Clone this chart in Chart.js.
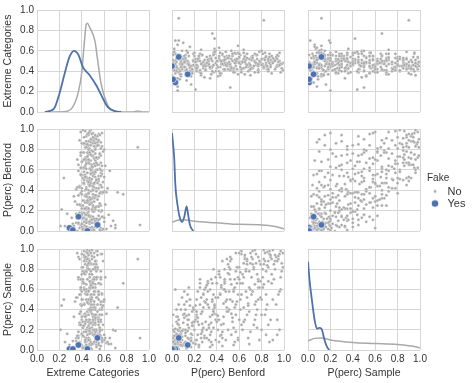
<!DOCTYPE html>
<html><head><meta charset="utf-8">
<script src="https://cdn.jsdelivr.net/npm/chart.js@4.4.0/dist/chart.umd.min.js"></script>
<style>
html,body{margin:0;padding:0;background:#fff;}
#wrap{position:relative;width:474px;height:383px;overflow:hidden;background:#fff;}
#wrap canvas{position:absolute;left:0;top:0;}
</style></head><body><div id="wrap"></div>
<script>
const varNames = ['Extreme Categories', 'P(perc) Benford', 'P(perc) Sample'];
const tickLabels = ['0.0', '0.2', '0.4', '0.6', '0.8', '1.0'];
const legendTitle = 'Fake';
const hueLabels = ['No', 'Yes'];

// Fake = No observations (Extreme Categories, P(perc) Benford, P(perc) Sample)
const ecNo = [
0.45,0.38,0.52,0.29,0.47,0.60,0.41,0.55,0.35,0.49, 0.43,0.66,0.50,0.32,0.57,0.44,0.39,0.53,0.46,0.62,
0.36,0.48,0.42,0.58,0.25,0.51,0.45,0.40,0.54,0.47, 0.33,0.56,0.44,0.70,0.49,0.41,0.52,0.37,0.59,0.46,
0.48,0.42,0.55,0.37,0.50,0.44,0.59,0.46,0.40,0.53, 0.31,0.47,0.51,0.43,0.57,0.39,0.49,0.64,0.45,0.52,
0.41,0.48,0.35,0.54,0.46,0.60,0.43,0.50,0.38,0.56, 0.47,0.27,0.44,0.51,0.42,
0.44,0.50,0.39,0.56,0.47,0.42,0.53,0.36,0.49,0.58, 0.45,0.41,0.52,0.48,0.34,0.55,0.46,0.61,0.43,0.50,
0.40,0.57,0.47,0.22,0.51,0.44,0.38,0.53,0.49,0.46,
0.47,0.52,0.43,0.58,0.40,0.49,0.55,0.45,0.62,0.42, 0.50,0.37,0.54,0.46,0.48,0.33,0.51,0.44,0.57,0.41,
0.48,0.53,0.39,0.46,0.60,0.45,0.50,0.43,
0.50,0.44,0.56,0.41,0.48,0.53,0.38,0.46,0.59,0.43, 0.51,0.47,0.35,0.54,0.45,0.49,0.63,0.42,0.52,0.46,
0.40,0.57,0.48,0.44,0.55,0.36,0.50,0.47,
0.46,0.52,0.41,0.57,0.49,0.44,0.55,0.39,0.51,0.47, 0.60,0.43,0.53,0.48,0.37,0.50,0.45,0.58,0.42,0.54,
0.47,0.40,0.52,0.49,0.65,0.44,0.51,
0.49,0.43,0.55,0.46,0.52,0.40,0.58,0.47,0.44,0.53, 0.50,0.37,0.56,0.45,0.48,0.61,0.42,0.51,0.46,0.54,
0.39,0.49,0.57,0.44,0.47,0.52,
0.51,0.45,0.56,0.42,0.48,0.53,0.39,0.47,0.59,0.44, 0.50,0.46,0.54,0.41,0.49,0.57,0.43,0.52,0.47,0.36,
0.55,0.48,0.45,0.50,
0.47,0.53,0.42,0.57,0.49,0.45,0.55,0.40,0.51,0.46, 0.58,0.44,0.52,0.48,0.38,0.54,0.43,0.50,0.46,0.60,
0.48,0.52,
0.50,0.44,0.55,0.47,0.41,0.52,0.46,0.58,0.43,0.49, 0.54,0.45,0.51,0.39,0.48,0.56,0.42,0.50,0.47,0.53,
0.92,0.90,0.77,0.72,0.70,0.68,0.21,0.24,
0.46,0.51,0.43,0.49,0.55,0.41,0.48,0.53,0.44,0.50, 0.52,0.45,0.48,0.56,0.42,0.50,0.46,0.39,0.54,0.47,
0.40,0.47,0.55,0.44,0.50,0.57,0.43,0.49,0.46,0.52, 0.48,0.42,0.50,0.46,0.53,0.45,0.58,0.41,0.49,0.55,
0.43,0.55,0.47,0.40,0.51,0.48,0.44,0.56,0.42,0.46, 0.50,0.37,0.44,0.52,0.47,0.58,0.43,0.49,0.45,0.51,
0.54,0.48,0.41,0.45,0.59,0.46,0.52,0.40,0.50,0.44, 0.45,0.49,0.53,0.42,0.48,0.44,0.55,0.47,0.43,0.57,
0.41,0.56,0.46,0.49,0.52,0.47,0.39,0.54,0.48,0.45, 0.47,0.44,0.58,0.50,0.38,0.53,0.48,0.42,0.52,0.49,
0.51,0.43,0.47,0.55,0.45,0.50,0.42,0.57,0.46,0.48, 0.44,0.52,0.49,0.40,0.56,0.46,0.51,0.45,0.53,0.47
];
const pbNo = [
0.01,0.03,0.05,0.02,0.07,0.09,0.04,0.06,0.08,0.00, 0.02,0.05,0.01,0.07,0.03,0.09,0.06,0.04,0.08,0.02,
0.00,0.03,0.06,0.01,0.05,0.08,0.04,0.07,0.09,0.02, 0.05,0.01,0.03,0.06,0.08,0.00,0.04,0.07,0.02,0.09,
0.11,0.13,0.15,0.17,0.19,0.12,0.14,0.16,0.18,0.10, 0.13,0.15,0.11,0.17,0.19,0.14,0.12,0.16,0.18,0.10,
0.12,0.15,0.17,0.11,0.19,0.13,0.16,0.14,0.18,0.12, 0.15,0.17,0.11,0.19,0.13,
0.21,0.23,0.25,0.27,0.29,0.22,0.24,0.26,0.28,0.20, 0.23,0.25,0.21,0.27,0.29,0.24,0.22,0.26,0.28,0.20,
0.22,0.25,0.27,0.21,0.29,0.23,0.26,0.24,0.28,0.22,
0.31,0.33,0.35,0.37,0.39,0.32,0.34,0.36,0.38,0.30, 0.33,0.35,0.31,0.37,0.39,0.34,0.32,0.36,0.38,0.30,
0.32,0.35,0.37,0.31,0.39,0.33,0.36,0.34,
0.41,0.43,0.45,0.47,0.49,0.42,0.44,0.46,0.48,0.40, 0.43,0.45,0.41,0.47,0.49,0.44,0.42,0.46,0.48,0.40,
0.42,0.45,0.47,0.41,0.49,0.43,0.46,0.44,
0.51,0.53,0.55,0.57,0.59,0.52,0.54,0.56,0.58,0.50, 0.53,0.55,0.51,0.57,0.59,0.54,0.52,0.56,0.58,0.50,
0.52,0.55,0.57,0.51,0.59,0.53,0.56,
0.61,0.63,0.65,0.67,0.69,0.62,0.64,0.66,0.68,0.60, 0.63,0.65,0.61,0.67,0.69,0.64,0.62,0.66,0.68,0.60,
0.62,0.65,0.67,0.61,0.69,0.64,
0.71,0.73,0.75,0.77,0.79,0.72,0.74,0.76,0.78,0.70, 0.73,0.75,0.71,0.77,0.79,0.74,0.72,0.76,0.78,0.70,
0.72,0.75,0.77,0.74,
0.81,0.83,0.85,0.87,0.89,0.82,0.84,0.86,0.88,0.80, 0.83,0.85,0.81,0.87,0.89,0.84,0.82,0.86,0.88,0.80,
0.84,0.86,
0.91,0.93,0.95,0.97,0.99,0.92,0.94,0.96,0.98,0.90, 0.93,0.95,0.91,0.97,0.99,0.94,0.92,0.96,0.98,0.90,
0.06,0.82,0.36,0.38,0.03,0.10,0.05,0.52,
0.02,0.12,0.22,0.32,0.42,0.52,0.62,0.72,0.82,0.92, 0.07,0.17,0.27,0.37,0.47,0.57,0.67,0.77,0.87,0.97,
0.04,0.14,0.24,0.34,0.44,0.54,0.64,0.74,0.84,0.94, 0.01,0.09,0.19,0.29,0.39,0.49,0.59,0.69,0.79,0.89,
0.05,0.11,0.26,0.36,0.46,0.56,0.66,0.76,0.86,0.96, 0.03,0.08,0.16,0.23,0.33,0.43,0.53,0.63,0.73,0.83,
0.06,0.10,0.13,0.28,0.38,0.48,0.58,0.68,0.78,0.88, 0.00,0.04,0.12,0.18,0.31,0.41,0.51,0.61,0.71,0.81,
0.02,0.06,0.15,0.21,0.35,0.45,0.55,0.65,0.75,0.85, 0.03,0.08,0.14,0.25,0.43,0.50,0.60,0.70,0.80,0.95,
0.01,0.05,0.09,0.20,0.30,0.40,0.50,0.60,0.70,0.90, 0.04,0.07,0.11,0.16,0.27,0.37,0.47,0.57,0.67,0.77
];
const psNo = [
0.02,0.08,0.15,0.05,0.22,0.10,0.03,0.30,0.12,0.01, 0.18,0.06,0.35,0.09,0.14,0.04,0.25,0.11,0.40,0.07,
0.13,0.02,0.45,0.20,0.08,0.16,0.28,0.05,0.52,0.10, 0.03,0.12,0.60,0.19,0.07,0.24,0.33,0.14,0.09,0.05,
0.05,0.18,0.30,0.12,0.42,0.08,0.25,0.50,0.15,0.35, 0.02,0.22,0.45,0.10,0.28,0.55,0.17,0.06,0.38,0.20,
0.14,0.62,0.09,0.32,0.24,0.48,0.04,0.19,0.27,0.40, 0.11,0.16,0.58,0.07,0.34,
0.10,0.28,0.45,0.18,0.60,0.35,0.05,0.52,0.22,0.40, 0.15,0.66,0.30,0.08,0.48,0.25,0.38,0.12,0.56,0.20,
0.33,0.70,0.26,0.44,0.14,0.58,0.36,0.03,0.42,0.50,
0.20,0.42,0.08,0.55,0.30,0.68,0.15,0.48,0.36,0.62, 0.25,0.70,0.12,0.40,0.52,0.33,0.58,0.05,0.45,0.28,
0.66,0.18,0.38,0.50,0.10,0.22,0.35,0.03,
0.30,0.55,0.12,0.68,0.42,0.78,0.25,0.60,0.48,0.35, 0.72,0.18,0.52,0.80,0.38,0.64,0.08,0.46,0.58,0.28,
0.75,0.04,0.66,0.20,0.50,0.14,0.33,0.62,
0.40,0.65,0.22,0.78,0.55,0.88,0.32,0.70,0.48,0.85, 0.15,0.60,0.82,0.45,0.72,0.28,0.92,0.08,0.66,0.38,
0.80,0.58,0.18,0.75,0.12,0.90,0.42,
0.50,0.75,0.30,0.88,0.62,0.95,0.42,0.80,0.12,0.70, 0.20,0.92,0.66,0.85,0.38,0.72,0.98,0.58,0.46,0.82,
0.25,0.90,0.35,0.77,0.06,0.86,
0.55,0.82,0.35,0.92,0.68,0.98,0.45,0.75,0.88,0.18, 0.25,0.95,0.72,0.50,0.85,0.65,0.90,0.40,0.10,0.96,
0.58,0.86,0.70,0.30,
0.62,0.88,0.45,0.95,0.75,0.99,0.55,0.82,0.92,0.20, 0.35,0.97,0.80,0.08,0.90,0.15,0.85,0.68,0.94,0.50,
0.78,0.25,
0.70,0.92,0.55,0.98,0.82,0.88,0.30,0.95,0.78,0.99, 0.45,0.90,0.85,0.60,0.96,0.15,0.94,0.20,0.86,0.10,
0.12,0.90,0.66,0.42,0.02,0.20,0.20,0.50,
0.04,0.20,0.10,0.45,0.30,0.70,0.55,0.85,0.65,0.80, 0.09,0.03,0.38,0.22,0.60,0.35,0.90,0.62,0.98,0.72,
0.16,0.30,0.05,0.60,0.15,0.48,0.28,0.99,0.40,0.88, 0.01,0.13,0.40,0.12,0.72,0.90,0.10,0.78,0.52,0.66,
0.26,0.07,0.16,0.50,0.26,0.62,0.78,0.22,0.88,0.58, 0.06,0.18,0.50,0.32,0.10,0.56,0.36,0.66,0.80,0.96,
0.11,0.27,0.02,0.55,0.44,0.10,0.82,0.44,0.62,0.30, 0.03,0.40,0.08,0.24,0.64,0.34,0.58,0.40,0.92,0.72,
0.14,0.01,0.35,0.06,0.27,0.88,0.05,0.94,0.48,0.84, 0.21,0.05,0.12,0.62,0.55,0.20,0.96,0.60,0.35,0.93,
0.08,0.33,0.19,0.28,0.47,0.66,0.76,0.30,0.86,0.50, 0.02,0.15,0.36,0.44,0.20,0.80,0.70,0.96,0.52,0.68
];

// Fake = Yes observations
const ecYes = [0.29, 0.32, 0.37, 0.45, 0.54];
const pbYes = [0.03, 0.01, 0.14, 0.00, 0.06];
const psYes = [0.01, 0.01, 0.05, 0.01, 0.12];

// Diagonal density curves (x grid, scaled density)
const kdeEcNoX  = [0.13,0.26,0.32,0.37,0.40,0.42,0.44,0.45,0.47,0.50,0.52,0.54,0.57,0.60,0.64,0.70,0.80,0.86,0.90,0.94,1.00];
const kdeEcNoY  = [0.00,0.005,0.05,0.20,0.39,0.65,0.86,0.87,0.83,0.76,0.68,0.52,0.29,0.16,0.05,0.01,0.00,0.00,0.01,0.00,0.00];
const kdeEcYesX = [0.07,0.15,0.20,0.25,0.29,0.33,0.37,0.41,0.47,0.53,0.59,0.63,0.69,0.75];
const kdeEcYesY = [0.00,0.03,0.18,0.39,0.54,0.60,0.56,0.44,0.36,0.26,0.13,0.05,0.01,0.00];
const kdePbNoX  = [0.00,0.05,0.10,0.20,0.40,0.60,0.80,0.92,1.00];
const kdePbNoY  = [0.085,0.105,0.11,0.095,0.08,0.065,0.06,0.045,0.02];
const kdePbYesX = [0.00,0.02,0.03,0.05,0.07,0.09,0.11,0.13,0.14,0.16,0.19];
const kdePbYesY = [0.96,0.71,0.45,0.25,0.13,0.09,0.14,0.24,0.19,0.06,0.00];
const kdePsNoX  = [0.00,0.06,0.12,0.20,0.40,0.60,0.80,0.97,1.00];
const kdePsNoY  = [0.09,0.115,0.12,0.10,0.075,0.065,0.055,0.03,0.02];
const kdePsYesX = [0.00,0.015,0.04,0.06,0.08,0.10,0.12,0.15,0.17,0.19];
const kdePsYesY = [0.875,0.68,0.45,0.29,0.21,0.22,0.21,0.09,0.03,0.00];

// ---------------------------------------------------------------
const FONT = '"Liberation Sans", Arial, sans-serif';
const GREY = '#a9a9a9';
const BLUE = '#4c72b0';
const GRID = '#d6d6d6';
const TXT = '#333333';
const W = 474, H = 383;
const colL = [37, 172, 308], colR = [149, 284, 420];
const rowT = [10, 129, 249], rowB = [112, 231, 350];

const vars = [
  {no: ecNo, yes: ecYes, kde: [[kdeEcYesX, kdeEcYesY], [kdeEcNoX, kdeEcNoY]]},
  {no: pbNo, yes: pbYes, kde: [[kdePbYesX, kdePbYesY], [kdePbNoX, kdePbNoY]]},
  {no: psNo, yes: psYes, kde: [[kdePsYesX, kdePsYesY], [kdePsNoX, kdePsNoY]]}
];
function pairs(xs, ys) {
  const n = Math.min(xs.length, ys.length), out = [];
  for (let i = 0; i < n; i++) out.push({x: xs[i], y: ys[i]});
  return out;
}
const wrap = document.getElementById('wrap');

function axis(show, isX, title, size) {
  return {
    type: 'linear', min: 0, max: 1,
    afterFit: s => { if (isX) s.height = size; else s.width = size; },
    ticks: {display: show, stepSize: 0.2, padding: 3, color: TXT,
            font: {family: FONT, size: 10}, callback: v => tickLabels[Math.round(v * 5)]},
    grid: {color: GRID, lineWidth: 1, drawTicks: false},
    border: {display: false},
    title: {display: show, text: title, color: TXT, font: {family: FONT, size: 10.5},
            padding: {top: 2, bottom: 4}}
  };
}

for (let r = 0; r < 3; r++) {
  for (let c = 0; c < 3; c++) {
    const cv = document.createElement('canvas');
    cv.width = W; cv.height = H;
    wrap.appendChild(cv);
    const left = c === 0, bottom = r === 2;
    const yw = left ? colL[0] : 0;
    const xh = bottom ? H - rowB[2] : 0;
    const padding = {left: colL[c] - yw, right: W - colR[c], top: rowT[r], bottom: H - rowB[r] - xh};
    let datasets;
    if (r === c) {
      const k = vars[c].kde;
      datasets = [
        {label: 'Yes', data: pairs(k[0][0], k[0][1]), showLine: true, borderColor: BLUE, borderWidth: 1.8,
         pointRadius: 0, cubicInterpolationMode: 'monotone', fill: false, clip: 0},
        {label: 'No', data: pairs(k[1][0], k[1][1]), showLine: true, borderColor: GREY, borderWidth: 1.5,
         pointRadius: 0, cubicInterpolationMode: 'monotone', fill: false, clip: 0}
      ];
    } else {
      datasets = [
        {label: 'Yes', data: pairs(vars[c].yes, vars[r].yes), backgroundColor: BLUE, borderColor: '#ffffff',
         borderWidth: 0.6, pointRadius: 3.3, clip: 0},
        {label: 'No', data: pairs(vars[c].no, vars[r].no), backgroundColor: GREY, borderColor: '#ffffff',
         borderWidth: 0.3, pointRadius: 1.5, clip: 0}
      ];
    }
    new Chart(cv, {
      type: 'scatter',
      data: {datasets},
      options: {
        responsive: false, animation: false, events: [],
        layout: {padding, autoPadding: false},
        plugins: {legend: {display: false}, tooltip: {enabled: false}},
        scales: {
          x: axis(bottom, true, varNames[c], xh),
          y: axis(left, false, varNames[r], yw)
        }
      }
    });
  }
}

// Legend
function dot(rad, color) {
  const d = document.createElement('canvas');
  d.width = 10; d.height = 10;
  const g = d.getContext('2d');
  g.fillStyle = color; g.beginPath(); g.arc(5, 5, rad, 0, Math.PI * 2); g.fill();
  return d;
}
const lc = document.createElement('canvas');
lc.width = 47; lc.height = 52;
lc.style.left = '427px'; lc.style.top = '173px';
wrap.appendChild(lc);
new Chart(lc, {
  type: 'scatter',
  data: {datasets: [{label: hueLabels[0], data: []}, {label: hueLabels[1], data: []}]},
  options: {
    responsive: false, animation: false, events: [],
    layout: {padding: 0},
    scales: {x: {display: false}, y: {display: false}},
    plugins: {
      tooltip: {enabled: false},
      legend: {
        display: true, position: 'left', align: 'start', maxWidth: 47,
        title: {display: true, text: legendTitle, color: TXT, font: {family: FONT, size: 10},
                padding: {top: 0, bottom: 0, left: 5}, position: 'start'},
        labels: {
          usePointStyle: true, pointStyleWidth: 14, padding: 1, color: TXT, font: {family: FONT, size: 11},
          generateLabels: () => [
            {text: hueLabels[0], pointStyle: dot(1.4, GREY), fillStyle: GREY, strokeStyle: GREY, lineWidth: 0, hidden: false, datasetIndex: 0, fontColor: TXT},
            {text: hueLabels[1], pointStyle: dot(3.3, BLUE), fillStyle: BLUE, strokeStyle: BLUE, lineWidth: 0, hidden: false, datasetIndex: 1, fontColor: TXT}
          ]
        }
      }
    }
  }
});
</script></body></html>
